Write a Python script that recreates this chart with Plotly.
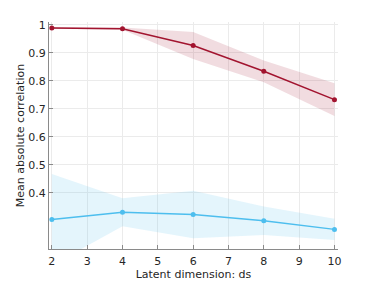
import plotly.graph_objects as go

ds = [2, 4, 6, 8, 10]
red_mean = [0.989, 0.986, 0.926, 0.834, 0.733]
red_std = [0.003, 0.004, 0.048, 0.039, 0.058]
blue_mean = [0.305, 0.331, 0.323, 0.301, 0.270]
blue_std = [0.163, 0.050, 0.085, 0.051, 0.038]
x_ticks = [2, 3, 4, 5, 6, 7, 8, 9, 10]
y_ticks = [0.4, 0.5, 0.6, 0.7, 0.8, 0.9, 1]
y_ticktext = ["0.4", "0.5", "0.6", "0.7", "0.8", "0.9", "1"]

RED = "#A2142F"
BLUE = "#4DBEEE"

fig = go.Figure()

def add_series(mean, std, color, fill):
    upper = [m + s for m, s in zip(mean, std)]
    lower = [m - s for m, s in zip(mean, std)]
    fig.add_trace(go.Scatter(x=ds + ds[::-1], y=upper + lower[::-1], fill="toself",
                             fillcolor=fill, line=dict(width=0), mode="lines",
                             hoverinfo="skip", showlegend=False))
    fig.add_trace(go.Scatter(x=ds, y=mean, mode="lines+markers",
                             line=dict(color=color, width=1.5),
                             marker=dict(color=color, size=5), showlegend=False))

add_series(red_mean, red_std, RED, "rgba(162,20,47,0.15)")
add_series(blue_mean, blue_std, BLUE, "rgba(77,190,238,0.15)")

axis_common = dict(showline=True, linecolor="#8a8a8a", linewidth=1,
                   showgrid=True, gridcolor="#ebebeb", gridwidth=1,
                   ticks="inside", ticklen=4, tickcolor="#8a8a8a",
                   zeroline=False, tickfont=dict(size=11, color="#262626"),
                   mirror=False, automargin=False)

fig.update_xaxes(range=[1.92, 10.1], tickvals=x_ticks, ticklabelstandoff=2,
                 title=dict(text="Latent dimension: ds", font=dict(size=11, color="#262626"), standoff=3),
                 **axis_common)
fig.update_yaxes(range=[0.2, 1.01], tickvals=y_ticks, ticktext=y_ticktext,
                 title=dict(text="Mean absolute correlation", font=dict(size=11, color="#262626"), standoff=1),
                 **axis_common)

# the page body has an 8px default margin, so the figure is shrunk by 8px
fig.update_layout(width=366, height=273, plot_bgcolor="white", paper_bgcolor="white",
                  margin=dict(l=41, r=36, t=14, b=32),
                  font=dict(family="DejaVu Sans", color="#262626"))

fig.write_html("out.html")
